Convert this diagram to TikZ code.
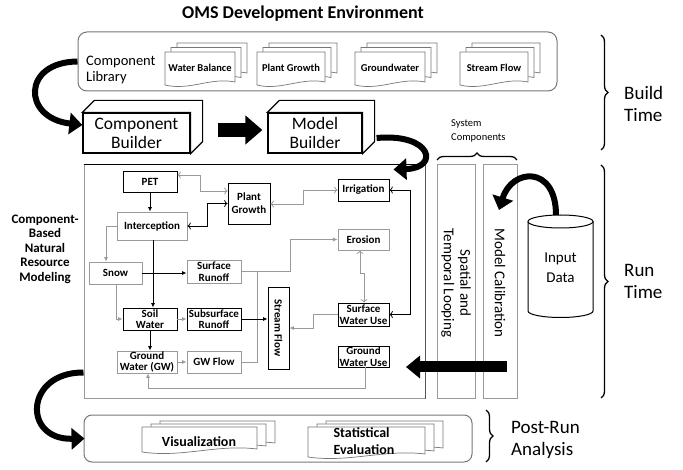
\documentclass[tikz,border=0pt]{standalone}
\usepackage{fontspec}
\setmainfont{Carlito}
\usetikzlibrary{arrows.meta,decorations.pathreplacing,calc}
\definecolor{lg}{HTML}{9A9A9A}
\definecolor{dg}{HTML}{555555}
\definecolor{bg}{HTML}{777777}
\tikzset{
  bx/.style={draw=black, line width=0.9pt, fill=white, font=\fontsize{11}{11.5}\selectfont\bfseries, align=center, inner sep=0pt},
  gbx/.style={bx, draw=lg},
  arr/.style={-{Latex[length=4.5pt,width=4pt]}, line width=0.8pt},
  barr/.style={arr, draw=black},
  garr/.style={arr, draw=lg},
  bline/.style={line width=0.8pt, draw=black},
  gline/.style={line width=0.8pt, draw=lg},
  docst/.style={fill=white, draw=bg, line width=0.7pt},
  doctext/.style={font=\fontsize{10.5}{12}\selectfont\bfseries, inner sep=0pt},
  pdoctext/.style={font=\fontsize{14}{17}\selectfont\bfseries, inner sep=0pt, align=left},
  cube/.style={draw=black, line width=1.2pt, fill=white, font=\fontsize{17.5}{19}\selectfont, align=center, inner sep=0pt},
  fatc/.style={line width=6pt, draw=black, -{Triangle[width=21pt,length=13pt]}},
  fats/.style={line width=14pt, draw=black, -{Triangle[width=28pt,length=17pt]}},
  fatl/.style={line width=11pt, draw=black, -{Triangle[width=22pt,length=14pt]}},
  brc/.style={line width=1.3pt, draw=black, decorate, decoration={brace, amplitude=7pt, aspect=0.5}},
  bigl/.style={font=\fontsize{19}{22}\selectfont, align=left, inner sep=0pt},
  col/.style={draw=lg, line width=1pt, inner sep=0pt},
}
\newcommand\dpage[4]{%
  \pgfmathsetmacro\dw{#3-(#1)}%
  \filldraw[docst] (#1,#2) -- (#3,#2) -- (#3,{#4-3}) .. controls ({#1+0.65*\dw},{#4-8}) and ({#1+0.35*\dw},{#4+6}) .. (#1,#4) -- cycle;}
\newcommand\dstack[6]{%
  \dpage{#1+2*#5}{#2-2*#6}{#3+2*#5}{#4-2*#6}%
  \dpage{#1+#5}{#2-#6}{#3+#5}{#4-#6}%
  \dpage{#1}{#2}{#3}{#4}}
\begin{document}
\begin{tikzpicture}[x=1pt,y=-1pt]
\useasboundingbox (0,0) rectangle (683,470);
\fill[white] (0,0) rectangle (683,470);

% title
\node[font=\fontsize{18}{20}\selectfont\bfseries] (title) at (303,14) {OMS Development Environment};

% component library
\node[draw=bg, line width=1pt, rounded corners=9pt, minimum width=479, minimum height=59, inner sep=0pt] (lib) at (317.5,61.5) {};
\node[font=\fontsize{14.5}{16}\selectfont, align=left, anchor=west, inner sep=0pt] (libt) at (86,70) {Component\\Library};
\dstack{165}{52}{235}{85}{6}{4.5}
\node[doctext] (wb) at (200,68) {Water Balance};
\dstack{257}{52}{325}{85}{6}{4.5}
\node[doctext] (pgd) at (291,68) {Plant Growth};
\dstack{355}{52}{425}{85}{6}{4.5}
\node[doctext] (gwd) at (390,68) {Groundwater};
\dstack{460}{52}{528}{85}{6}{4.5}
\node[doctext] (sfd) at (494,68) {Stream Flow};

% builders
\node[cube, minimum width=107, minimum height=40] (cb) at (136.5,133) {Component\\Builder};
\draw[line width=1.2pt, fill=white] (cb.north west) -- ++(12,-12) -- ([shift={(12,-12)}]cb.north east) -- ([shift={(12,-12)}]cb.south east) -- (cb.south east) -- (cb.north east) -- cycle;
\node[cube, minimum width=94, minimum height=40] (mb) at (315,133) {Model\\Builder};
\draw[line width=1.2pt, fill=white] (mb.north west) -- ++(12,-12) -- ([shift={(12,-12)}]mb.north east) -- ([shift={(12,-12)}]mb.south east) -- (mb.south east) -- (mb.north east) -- cycle;
\draw[fats] ([shift={(27,-3)}]cb.east) -- ([shift={(-5,-3)}]mb.west);

% main box and columns
\node[draw=lg, line width=1pt, minimum width=341, minimum height=233, inner sep=0pt] (main) at (254.5,281.5) {};
\draw[black, line width=1pt] (main.north west) -- (main.north east);
\draw[dg, line width=1.8pt] (main.north east) -- (main.south east);
\node[col, minimum width=38, minimum height=233] (stl) at (456,281.5) {};
\node[rotate=-90, font=\fontsize{15}{16.5}\selectfont, align=center] (stlt) at (456,283) {Spatial and\\Temporal Looping};
\node[col, minimum width=34, minimum height=233] (mcal) at (500,281.5) {};
\node[rotate=-90, font=\fontsize{15}{16.5}\selectfont] (mcalt) at (500,283) {Model Calibration};

\node[font=\fontsize{10.5}{14}\selectfont, align=left, anchor=west, inner sep=0pt] (sc) at (451,131) {System\\Components};
\draw[brc] (437,160) -- (517,160);

% left label
\node[font=\fontsize{13}{14.5}\selectfont\bfseries, align=center] (cbl) at (45,249) {Component-\\Based\\Natural\\Resource\\Modeling};

% input data cylinder
\draw[fill=white, line width=1pt] (528,221.5) -- (528,311) arc[start angle=180, end angle=360, x radius=32.5pt, y radius=6.5pt] -- (593,221.5);
\draw[line width=1pt, fill=white] (560.5,221.5) ellipse [x radius=32.5pt, y radius=6.5pt];
\node[font=\fontsize{15}{20}\selectfont, align=center] (inp) at (560.5,268) {Input\\Data};
\coordinate (cyltop) at (556,215);
\coordinate (mcaltip) at (499,210);
\draw[fatc] (cyltop) .. controls (556,165) and (512,168) .. (mcaltip);

% fat left arrow
\coordinate (fa1) at (507,367);
\coordinate (fa2) at (406,367);
\draw[fatl] (fa1) -- (fa2);

% inner nodes
\node[bx, minimum width=54, minimum height=21] (pet) at (150,181.5) {PET};
\node[bx, minimum width=42, minimum height=41, font=\fontsize{11}{13}\selectfont\bfseries] (pg) at (249,203.5) {Plant\\Growth};
\node[bx, minimum width=51, minimum height=22] (irr) at (363.5,190) {Irrigation};
\node[gbx, minimum width=70, minimum height=28] (icp) at (152,226) {Interception};
\node[gbx, minimum width=51, minimum height=21] (ero) at (363.5,239.5) {Erosion};
\node[gbx, minimum width=53, minimum height=22] (snow) at (115.5,273) {Snow};
\node[gbx, minimum width=54, minimum height=23] (sr) at (214,271.5) {Surface\\Runoff};
\node[bx, minimum width=21, minimum height=82] (sf) at (278.5,328) {};
\node[rotate=-90, font=\fontsize{11}{12}\selectfont\bfseries, inner sep=0pt] (sft) at (sf) {Stream Flow};
\node[bx, minimum width=51, minimum height=23] (swu) at (363.5,314.5) {Surface\\Water Use};
\node[bx, minimum width=54, minimum height=22] (sw) at (150,319) {Soil\\Water};
\node[bx, minimum width=54, minimum height=22] (ssr) at (214,319) {Subsurface\\Runoff};
\node[gbx, minimum width=60, minimum height=22] (gw) at (147,362) {Ground\\Water (GW)};
\node[gbx, minimum width=54, minimum height=22] (gwf) at (214,362) {GW Flow};
\node[bx, minimum width=51, minimum height=21] (gwu) at (363.5,356.5) {Ground\\Water Use};

% connectors
\draw[barr] (pet) -- (pet |- icp.north);
\draw[garr,<->] (pet.east |- 0,175) -| (200,191) -- (pg.west |- 0,191);
\draw[barr,<->] (icp.east) -| (207,203.5) -- (pg.west);
\draw[garr,<->] (pg.east |- 0,204) -| (303,190) -- (irr.west);
\draw[barr,<->] (irr.east) -- ++(21,0) |- (swu.east);
\draw[garr,<->] (ero.south -| 360,0) -- (360,273) -- (364,273) -- (swu.north -| 364,0);
\draw[garr] (icp.west) -| (snow.north -| 106,0);
\draw[barr] (icp.south -| 153,0) -- (sw.north -| 153,0);
\draw[barr] (snow.east) -- (snow.east -| sr.west);
\draw[garr] (snow.south -| 116,0) |- (sw.west);
\draw[garr] (sr.east) -| (ero.west -| 290,0) -- (ero.west);
\draw[gline] (sr.east) -| (gwf.east -| 257,0) -- (gwf.east);
\draw[barr] (ssr.east) -- (ssr.east -| sf.west);
\draw[garr] (swu.west) -| (313,328) -- (sf.east |- 0,328);
\draw[garr] (sw.east) -- (ssr.west);
\draw[barr] (sw.south) -- (sw.south |- gw.north);
\draw[garr] (gw.east) -- (gwf.west);
\draw[garr] (gwu.south -| 365,0) |- (148,388) -- (gw.south -| 148,0);

% curved arrows
\draw[fatc] (lib.west) .. controls (22,62) and (22,118) .. ([yshift=8pt]cb.west);
\draw[fatc] ([shift={(14,5)}]mb.east) .. controls (432,133) and (440,168) .. ([shift={(-32,5)}]main.north east);

% post run
\node[draw=bg, line width=1pt, rounded corners=8pt, minimum width=388, minimum height=47, inner sep=0pt] (post) at (278,438.5) {};
\dstack{142}{427}{257}{452}{9}{3}
\node[pdoctext] (vis) at (199,442) {Visualization};
\dstack{308}{427}{425}{457}{9}{3}
\node[pdoctext] (stat) at (364,441.5) {Statistical\\Evaluation};
\draw[fatc] ([shift={(0,-26)}]main.south west) .. controls (25,372) and (22,440) .. ([xshift=1pt]post.west);

% braces and labels
\draw[brc] (601,35) -- (601,150);
\node[bigl, anchor=west] (bt) at (624,104) {Build\\Time};
\draw[brc] (601,165) -- (601,398);
\node[bigl, anchor=west] (rt) at (624,281) {Run\\Time};
\draw[brc] (486,410) -- (486,462);
\node[bigl, anchor=west] (pra) at (511,440) {Post-Run\\Analysis};
\end{tikzpicture}
\end{document}
